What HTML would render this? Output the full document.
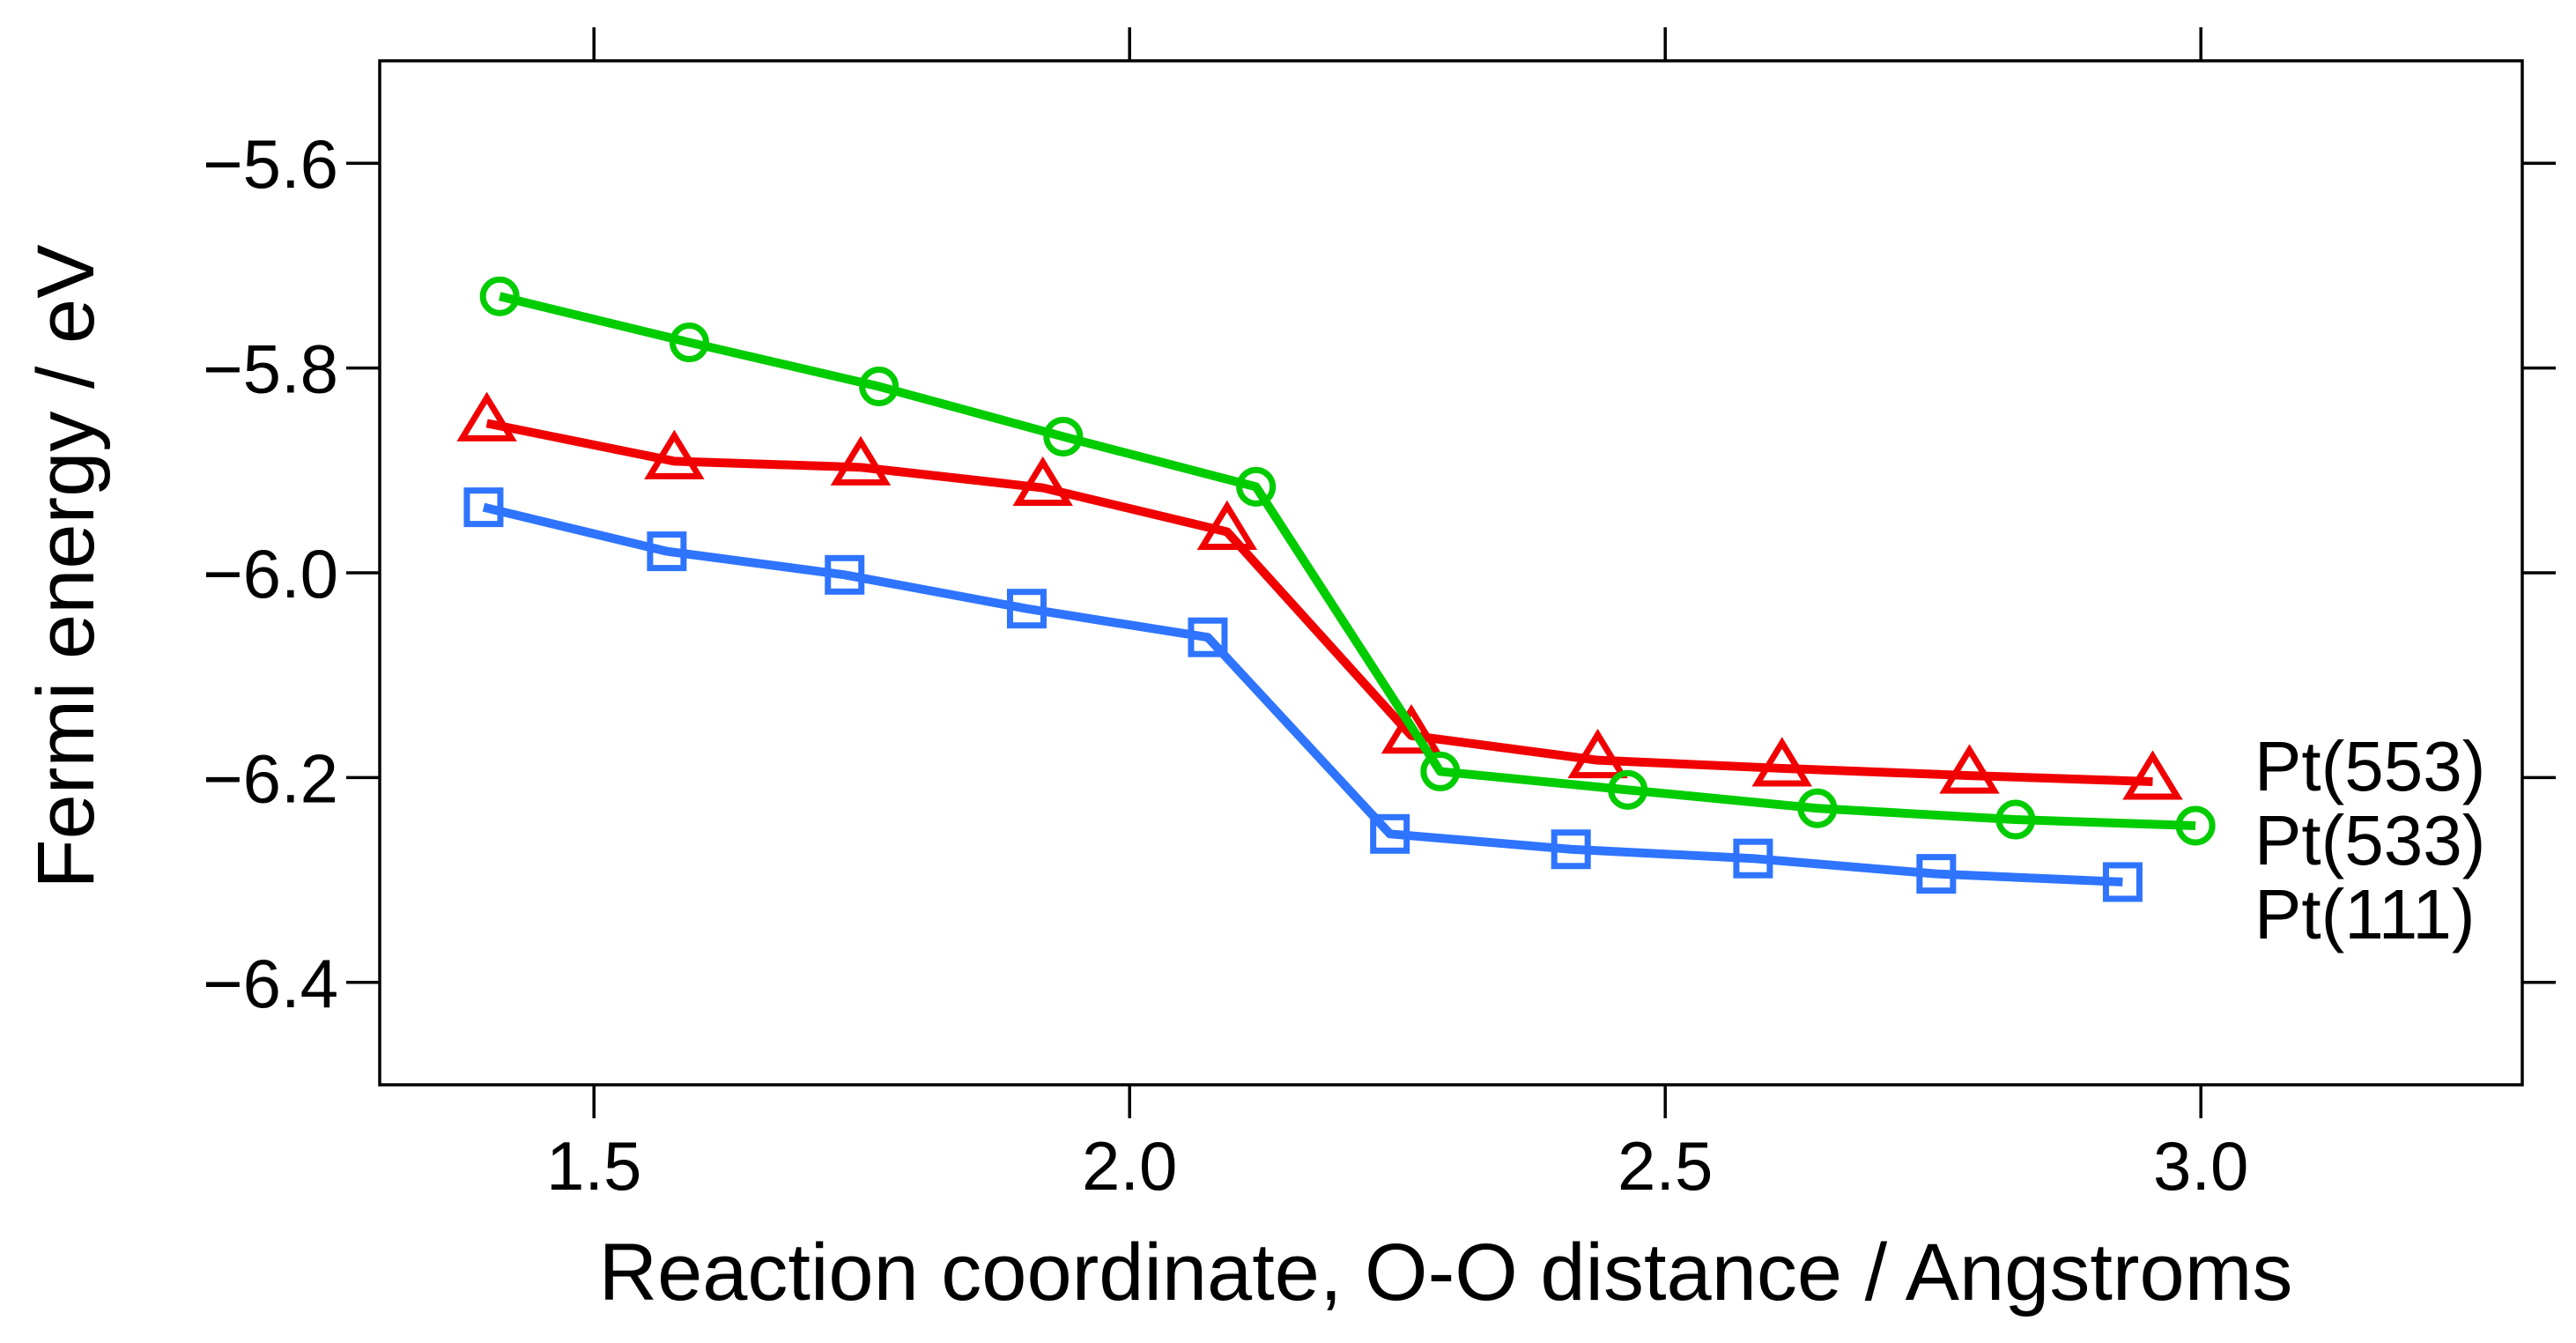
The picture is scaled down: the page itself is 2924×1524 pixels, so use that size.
<!DOCTYPE html>
<html><head><meta charset="utf-8"><style>
html,body{margin:0;padding:0;background:#fff;}
svg{display:block;font-family:"Liberation Sans",Arial,sans-serif;}
</style></head><body>
<svg id="chart" width="2924" height="1524" viewBox="0 0 2924 1524" xmlns="http://www.w3.org/2000/svg">
<rect x="431" y="69" width="2432" height="1162" fill="none" stroke="#000" stroke-width="3.5"/>
<g id="axes"></g>
<g id="series"></g>
<text x="1641" y="1475" font-size="92" text-anchor="middle">Reaction coordinate, O-O distance / Angstroms</text>
<text transform="translate(106,643) rotate(-90)" font-size="92" text-anchor="middle">Fermi energy / eV</text>
<text x="2559" y="897" font-size="80">Pt(553)</text>
<text x="2559" y="981" font-size="80">Pt(533)</text>
<text x="2559" y="1065" font-size="80">Pt(111)</text>
</svg>
<script>
const xTicks=[1.5,2.0,2.5,3.0];
const xTickLabels=["1.5","2.0","2.5","3.0"];
const yTicks=[-5.6,-5.8,-6.0,-6.2,-6.4];
const yTickLabels=["\u22125.6","\u22125.8","\u22126.0","\u22126.2","\u22126.4"];
const xPt111=[1.397,1.568,1.734,1.904,2.073,2.243,2.412,2.582,2.753,2.927];
const yPt111=[-5.936,-5.979,-6.002,-6.035,-6.063,-6.255,-6.270,-6.279,-6.294,-6.302];
const xPt553=[1.400,1.575,1.749,1.919,2.091,2.263,2.437,2.609,2.784,2.955];
const yPt553=[-5.854,-5.891,-5.897,-5.917,-5.960,-6.159,-6.183,-6.191,-6.198,-6.204];
const xPt533=[1.412,1.589,1.766,1.938,2.118,2.290,2.465,2.642,2.827,2.995];
const yPt533=[-5.730,-5.775,-5.818,-5.867,-5.916,-6.194,-6.212,-6.230,-6.241,-6.247];

const NS="http://www.w3.org/2000/svg";
const L=431,R=2863,T=69,B=1231;
const X0=1.3,X1=3.3,Y0=-6.5,Y1=-5.5;
function sx(v){return L+(v-X0)/(X1-X0)*(R-L);}
function sy(v){return B-(v-Y0)/(Y1-Y0)*(B-T);}
function mk(tag,attrs,parent){const e=document.createElementNS(NS,tag);for(const k in attrs)e.setAttribute(k,attrs[k]);parent.appendChild(e);return e;}
const axes=document.getElementById('axes');
const tl=38;
xTicks.forEach((v,i)=>{
  const x=sx(v);
  const t1=mk('line',{x1:x,x2:x,y1:T,y2:T-tl,stroke:'#000','stroke-width':3.5},axes);
  
  
  const t2=mk('line',{x1:x,x2:x,y1:B,y2:B+tl,stroke:'#000','stroke-width':3.5},axes);
  
  
  const lb=mk('text',{x:x,y:1350,'font-size':78,'text-anchor':'middle'},axes);
  lb.textContent=xTickLabels[i];
  
  
});
yTicks.forEach((v,i)=>{
  const y=sy(v);
  const t1=mk('line',{x1:L,x2:L-tl,y1:y,y2:y,stroke:'#000','stroke-width':3.5},axes);
  
  
  const t2=mk('line',{x1:R,x2:R+tl,y1:y,y2:y,stroke:'#000','stroke-width':3.5},axes);
  
  
  const lb=mk('text',{x:384,y:y+28,'font-size':78,'text-anchor':'end'},axes);
  lb.textContent=yTickLabels[i];
  
  
});
const g=document.getElementById('series');
function drawSeries(xs,ys,color,shape,name){
  const pts=xs.map((v,i)=>sx(v)+','+sy(ys[i])).join(' ');
  const pl=mk('polyline',{points:pts,fill:'none',stroke:color,'stroke-width':10,'stroke-linejoin':'round'},g);
  
  
  xs.forEach((v,i)=>{
    const x=sx(v),y=sy(ys[i]);let m;
    if(shape==='square') m=mk('rect',{x:x-19,y:y-19,width:38,height:38,fill:'none',stroke:color,'stroke-width':7},g);
    else if(shape==='circle') m=mk('circle',{cx:x,cy:y,r:19,fill:'none',stroke:color,'stroke-width':7},g);
    else m=mk('polygon',{points:(x-28)+','+(y+17)+' '+(x+28)+','+(y+17)+' '+x+','+(y-29),fill:'none',stroke:color,'stroke-width':7},g);
    
    
  });
}
drawSeries(xPt111,yPt111,'#2f74ff','square','pt111');
drawSeries(xPt553,yPt553,'#f00000','triangle','pt553');
drawSeries(xPt533,yPt533,'#00cc00','circle','pt533');
</script>
</body></html>
